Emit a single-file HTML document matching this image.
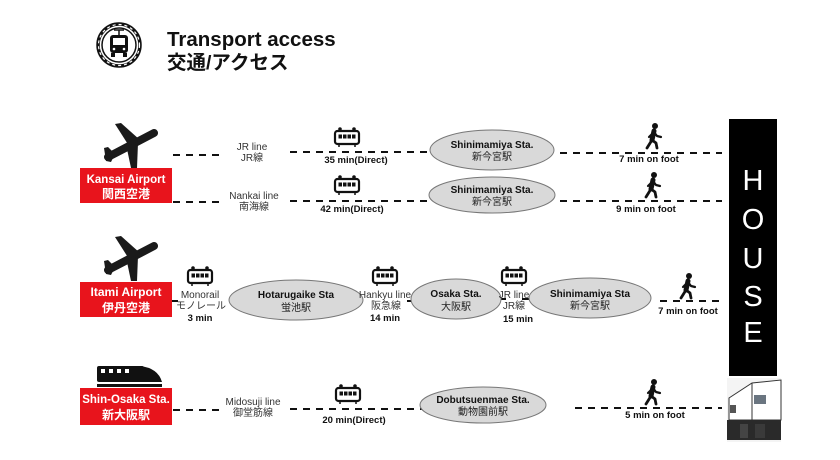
<!DOCTYPE html>
<html><head><meta charset="utf-8"><style>
html,body{margin:0;padding:0;background:#fff;}
svg{display:block;}
text{font-family:"Liberation Sans","Noto Sans CJK JP",sans-serif;}
.b{font-weight:bold;}
</style></head><body>
<svg width="840" height="460" viewBox="0 0 840 460" xmlns="http://www.w3.org/2000/svg">
<defs>
<g id="tr">
 <rect x="-12" y="-7" width="24" height="13" rx="2.5" fill="#fff" stroke="#111" stroke-width="2.2"/>
 <rect x="-8.5" y="-3.5" width="3.5" height="4" fill="#111"/><rect x="-4" y="-3.5" width="3.5" height="4" fill="#111"/>
 <rect x="0.5" y="-3.5" width="3.5" height="4" fill="#111"/><rect x="5" y="-3.5" width="3.5" height="4" fill="#111"/>
 <circle cx="-7" cy="-9" r="1.8" fill="#111"/><circle cx="7" cy="-9" r="1.8" fill="#111"/>
 <line x1="-8" y1="7" x2="-8" y2="9" stroke="#111" stroke-width="1.5"/><line x1="8" y1="7" x2="8" y2="9" stroke="#111" stroke-width="1.5"/>
</g>
<g id="wk" fill="#111" stroke="#111" stroke-linecap="round" stroke-linejoin="round">
 <circle cx="1" cy="-11" r="3" stroke="none"/>
 <path d="M0,-6 L-2,3" stroke-width="5" fill="none"/>
 <path d="M-2,3 L-7,11" stroke-width="2.8" fill="none"/>
 <path d="M-2,3 L2,6 L3,11" stroke-width="2.8" fill="none"/>
 <path d="M0,-5 L-5,0" stroke-width="2.2" fill="none"/>
 <path d="M0,-5 L3,-1 L7,0" stroke-width="2.2" fill="none"/>
</g>
<g id="pl" fill="#1a1a1a">
 <line x1="108" y1="157" x2="154" y2="133" stroke="#1a1a1a" stroke-width="8" stroke-linecap="round"/>
 <polygon points="115,124 121,123 140,140 129,146"/>
 <polygon points="127,149 138,143 137,168 131,168"/>
 <polygon points="104,148 108,147 115,154 111,162 106,161"/>
</g>
</defs>

<!-- title icon -->
<circle cx="119" cy="45" r="21" fill="#fff" stroke="#111" stroke-width="3.5"/>
<circle cx="119" cy="45" r="17" fill="none" stroke="#111" stroke-width="1.5"/>
<circle cx="119" cy="45" r="20.5" fill="none" stroke="#fff" stroke-width="1.2" stroke-dasharray="3 3"/>
<rect x="110" y="35" width="18" height="18" rx="3" fill="#111"/>
<rect x="113" y="38" width="12" height="7" fill="#fff"/>
<rect x="111" y="53" width="4" height="4" fill="#111"/><rect x="123" y="53" width="4" height="4" fill="#111"/>
<line x1="114" y1="30" x2="124" y2="30" stroke="#111" stroke-width="1.5"/>
<line x1="119" y1="30" x2="119" y2="35" stroke="#111" stroke-width="1.5"/>
<circle cx="114" cy="49" r="1.3" fill="#fff"/><circle cx="124" cy="49" r="1.3" fill="#fff"/>
<text x="167" y="46" font-size="20.5" class="b" fill="#111">Transport access</text>
<text x="167" y="69" font-size="19.5" class="b" fill="#111">交通/アクセス</text>

<!-- planes -->
<use href="#pl"/>
<use href="#pl" transform="translate(0,113)"/>

<!-- red boxes -->
<rect x="80" y="168" width="92" height="35" fill="#e8141c"/>
<text x="126" y="183" font-size="11.5" class="b" fill="#fff" text-anchor="middle">Kansai Airport</text>
<text x="126" y="198" font-size="12" class="b" fill="#fff" text-anchor="middle">関西空港</text>
<rect x="80" y="282" width="92" height="35" fill="#e8141c"/>
<text x="126" y="296" font-size="12" class="b" fill="#fff" text-anchor="middle">Itami Airport</text>
<text x="126" y="312" font-size="12" class="b" fill="#fff" text-anchor="middle">伊丹空港</text>
<rect x="80" y="388" width="92" height="37" fill="#e8141c"/>
<text x="126" y="403" font-size="11.5" class="b" fill="#fff" text-anchor="middle">Shin-Osaka Sta.</text>
<text x="126" y="419" font-size="12" class="b" fill="#fff" text-anchor="middle">新大阪駅</text>

<!-- shinkansen icon -->
<rect x="97" y="366" width="47" height="16" rx="2" fill="#111"/>
<path d="M140,366 Q158,368 162,382 L140,382 Z" fill="#111"/>
<rect x="101" y="369" width="4" height="4" fill="#fff"/><rect x="109" y="369" width="4" height="4" fill="#fff"/>
<rect x="117" y="369" width="4" height="4" fill="#fff"/><rect x="125" y="369" width="4" height="4" fill="#fff"/>
<rect x="97" y="384" width="65" height="3" fill="#111"/>

<g stroke="#111" stroke-width="2" stroke-dasharray="7 6" fill="none">
 <line x1="173" y1="155" x2="222" y2="155"/>
 <line x1="290" y1="152" x2="430" y2="152"/>
 <line x1="560" y1="153" x2="722" y2="153"/>
 <line x1="173" y1="202" x2="222" y2="202"/>
 <line x1="290" y1="201" x2="430" y2="201"/>
 <line x1="560" y1="201" x2="722" y2="201"/>
 <line x1="660" y1="301" x2="722" y2="301"/>
 <line x1="173" y1="410" x2="222" y2="410"/>
 <line x1="290" y1="409" x2="422" y2="409"/>
 <line x1="575" y1="408" x2="722" y2="408"/>
</g>
<g stroke="#111" stroke-width="2">
 <line x1="172" y1="301" x2="178" y2="301"/>
 <line x1="355" y1="301" x2="362" y2="301"/>
 <line x1="407" y1="301" x2="414" y2="301"/>
 <line x1="499" y1="299" x2="506" y2="299"/>
 <line x1="522" y1="299" x2="530" y2="299"/>
</g>

<!-- ellipses -->
<g fill="#d9d9d9" stroke="#777" stroke-width="1">
 <ellipse cx="492" cy="150" rx="62" ry="20"/>
 <ellipse cx="492" cy="195" rx="63" ry="18"/>
 <ellipse cx="296" cy="300" rx="67" ry="20"/>
 <ellipse cx="456" cy="299" rx="45" ry="20"/>
 <ellipse cx="590" cy="298" rx="61" ry="20"/>
 <ellipse cx="483" cy="405" rx="63" ry="18"/>
</g>
<g font-size="10" class="b" fill="#111" text-anchor="middle">
 <text x="492" y="148">Shinimamiya Sta.</text>
 <text x="492" y="193">Shinimamiya Sta.</text>
 <text x="296" y="298">Hotarugaike Sta</text>
 <text x="456" y="297">Osaka Sta.</text>
 <text x="590" y="297">Shinimamiya  Sta</text>
 <text x="483" y="403">Dobutsuenmae Sta.</text>
</g>
<g font-size="10" fill="#222" text-anchor="middle">
 <text x="492" y="160">新今宮駅</text>
 <text x="492" y="205">新今宮駅</text>
 <text x="296" y="311">蛍池駅</text>
 <text x="456" y="310">大阪駅</text>
 <text x="590" y="309">新今宮駅</text>
 <text x="483" y="415">動物園前駅</text>
</g>

<!-- line labels -->
<g font-size="10" fill="#333" text-anchor="middle">
 <text x="252" y="150">JR line</text><text x="252" y="161">JR線</text>
 <text x="254" y="199">Nankai line</text><text x="254" y="210">南海線</text>
 <text x="200" y="298">Monorail</text><text x="201" y="309">モノレール</text>
 <text x="385" y="298">Hankyu line</text><text x="386" y="309">阪急線</text>
 <text x="514" y="298">JR line</text><text x="514" y="309">JR線</text>
 <text x="253" y="405">Midosuji line</text><text x="253" y="416">御堂筋線</text>
</g>
<g font-size="9.5" class="b" fill="#111" text-anchor="middle">
 <text x="356" y="163">35 min(Direct)</text>
 <text x="352" y="212">42 min(Direct)</text>
 <text x="200" y="321">3 min</text>
 <text x="385" y="321">14 min</text>
 <text x="518" y="322">15 min</text>
 <text x="354" y="423">20 min(Direct)</text>
 <text x="649" y="162">7 min on foot</text>
 <text x="646" y="212">9 min on foot</text>
 <text x="688" y="314">7 min on foot</text>
 <text x="655" y="418">5 min on foot</text>
</g>

<!-- train icons -->
<use href="#tr" transform="translate(347,138)"/>
<use href="#tr" transform="translate(347,186)"/>
<use href="#tr" transform="translate(200,277)"/>
<use href="#tr" transform="translate(385,277)"/>
<use href="#tr" transform="translate(514,277)"/>
<use href="#tr" transform="translate(348,395)"/>

<!-- walkers -->
<use href="#wk" transform="translate(654,137)"/>
<use href="#wk" transform="translate(653,186)"/>
<use href="#wk" transform="translate(688,287)"/>
<use href="#wk" transform="translate(653,393)"/>

<!-- HOUSE -->
<rect x="729" y="119" width="48" height="257" fill="#000"/>
<g font-size="29" fill="#fff" text-anchor="middle">
 <text x="753" y="190">H</text>
 <text x="753" y="229">O</text>
 <text x="753" y="268">U</text>
 <text x="753" y="306">S</text>
 <text x="753" y="342">E</text>
</g>
<!-- house photo -->
<rect x="727" y="378" width="54" height="64" fill="#f4f4f4"/>
<polygon points="729,398 752,383 781,380 781,420 729,420" fill="#fff" stroke="#333" stroke-width="1"/>
<line x1="752" y1="383" x2="752" y2="420" stroke="#333"/>
<rect x="754" y="395" width="12" height="9" fill="#6a7580"/>
<rect x="730" y="405" width="6" height="8" fill="#555"/>
<rect x="727" y="420" width="54" height="20" fill="#2a2a2a"/>
<rect x="740" y="424" width="8" height="14" fill="#444"/>
<rect x="755" y="424" width="10" height="14" fill="#3a3a3a"/>
</svg>
</body></html>
